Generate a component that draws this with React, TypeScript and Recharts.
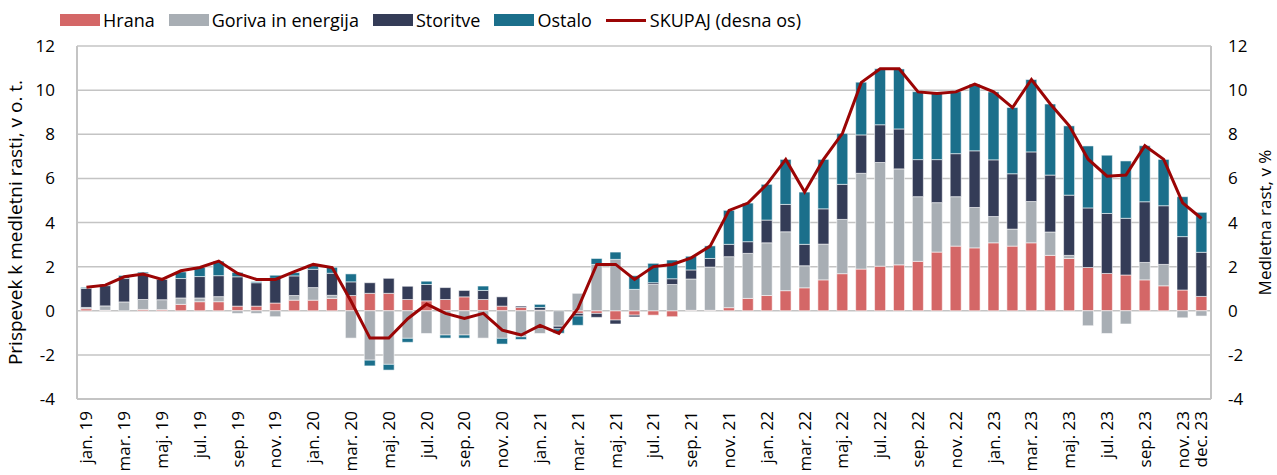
import { ComposedChart, Bar, Line, XAxis, YAxis, CartesianGrid } from 'recharts';

const MONTH_NAMES = ['jan', 'feb', 'mar', 'apr', 'maj', 'jun', 'jul', 'avg', 'sep', 'okt', 'nov', 'dec'];
const YEARS = ['19', '20', '21', '22', '23'];
const MONTHS = YEARS.flatMap((y) => MONTH_NAMES.map((m) => `${m}. ${y}`));

const HRANA = [
  0.09, 0.02, 0.0, 0.06, 0.05, 0.29, 0.41, 0.41, 0.21, 0.21, 0.35, 0.48,
  0.48, 0.56, 0.69, 0.79, 0.79, 0.51, 0.45, 0.51, 0.63, 0.51, 0.21, 0.15,
  0.03, 0.0, -0.12, -0.12, -0.42, -0.2, -0.2, -0.27, 0.02, 0.02, 0.14, 0.56,
  0.69, 0.91, 1.04, 1.4, 1.68, 1.89, 2.02, 2.08, 2.24, 2.66, 2.93, 2.85,
  3.08, 2.93, 3.08, 2.51, 2.37, 1.96, 1.69, 1.62, 1.4, 1.13, 0.94, 0.65,
];
const GORIVA = [
  0.06, 0.2, 0.4, 0.45, 0.45, 0.29, 0.17, 0.23, -0.12, -0.12, -0.27, 0.21,
  0.57, 0.14, -1.24, -2.24, -2.43, -1.25, -1.03, -1.1, -1.1, -1.24, -1.25, -1.18,
  -1.03, -0.7, 0.79, 2.1, 2.33, 0.97, 1.19, 1.19, 1.42, 1.96, 2.31, 2.04,
  2.39, 2.67, 1.0, 1.62, 2.46, 4.34, 4.7, 4.35, 2.93, 2.24, 2.24, 1.83,
  1.19, 0.77, 1.87, 1.06, 0.14, -0.68, -1.03, -0.6, 0.79, 0.97, -0.32, -0.24,
];
const STORITVE = [
  0.86, 0.92, 1.06, 1.18, 0.92, 0.88, 0.97, 0.95, 1.33, 1.06, 1.12, 0.89,
  0.83, 1.0, 0.62, 0.48, 0.68, 0.6, 0.74, 0.54, 0.29, 0.41, 0.42, 0.06,
  0.12, -0.12, -0.12, -0.18, -0.18, -0.08, 0.08, 0.26, 0.41, 0.39, 0.56, 0.53,
  1.03, 1.24, 0.97, 1.6, 1.59, 1.74, 1.71, 1.81, 1.68, 1.95, 1.95, 2.57,
  2.57, 2.51, 2.25, 2.58, 2.73, 2.7, 2.72, 2.57, 2.75, 2.66, 2.42, 2.0,
];
const OSTALO = [
  0.05, 0.06, 0.14, 0.06, 0.0, 0.3, 0.42, 0.66, 0.2, 0.05, 0.14, 0.15,
  0.21, 0.27, 0.36, -0.26, -0.26, -0.18, 0.15, -0.14, -0.14, 0.2, -0.26, -0.12,
  0.14, -0.2, -0.42, 0.27, 0.33, 0.62, 0.88, 0.85, 0.62, 0.57, 1.54, 1.75,
  1.62, 2.04, 2.37, 2.24, 2.31, 2.39, 2.54, 2.72, 3.08, 3.0, 2.81, 3.02,
  3.08, 3.0, 3.28, 3.22, 3.14, 2.81, 2.64, 2.6, 2.54, 2.1, 1.81, 1.81,
];
const SKUPAJ = [
  1.06, 1.16, 1.54, 1.66, 1.42, 1.81, 1.96, 2.25, 1.69, 1.42, 1.42, 1.77,
  2.1, 1.96, 0.43, -1.24, -1.24, -0.36, 0.3, -0.12, -0.35, -0.12, -0.88, -1.1,
  -0.66, -1.03, 0.1, 2.1, 2.1, 1.42, 2.0, 2.1, 2.4, 2.93, 4.55, 4.88,
  5.73, 6.86, 5.38, 6.86, 8.04, 10.35, 10.97, 10.97, 9.92, 9.85, 9.92, 10.27,
  9.92, 9.21, 10.48, 9.37, 8.38, 6.87, 6.1, 6.15, 7.48, 6.86, 4.89, 4.18,
];
const Y_TICKS = [-4, -2, 0, 2, 4, 6, 8, 10, 12];

const data = MONTHS.map((month, i) => ({
  month,
  hrana: HRANA[i],
  goriva: GORIVA[i],
  storitve: STORITVE[i],
  ostalo: OSTALO[i],
  skupaj: SKUPAJ[i],
}));

const COLORS = {
  hrana: '#d46767',
  goriva: '#a8aeb4',
  storitve: '#343c57',
  ostalo: '#1b6f8b',
  skupaj: '#9b0505',
};

const LEGEND = [
  { label: 'Hrana', color: COLORS.hrana, type: 'box' },
  { label: 'Goriva in energija', color: COLORS.goriva, type: 'box' },
  { label: 'Storitve', color: COLORS.storitve, type: 'box' },
  { label: 'Ostalo', color: COLORS.ostalo, type: 'box' },
  { label: 'SKUPAJ (desna os)', color: COLORS.skupaj, type: 'line' },
];

const FONT = '"Open Sans", "Noto Sans", sans-serif';
const GRID = '#c4c4c4';

function MonthTick({ x, y, payload, index }: any) {
  const last = index === MONTHS.length - 1;
  if (index % 2 !== 0 && !last) return null;
  return (
    <text
      x={x}
      y={y + 10}
      transform={`rotate(-90, ${x}, ${y + 10})`}
      textAnchor="end"
      dy="0.35em"
      fontSize={17}
      fill="#000"
    >
      {payload.value}
    </text>
  );
}

const barProps = {
  stackId: 'a',
  yAxisId: 'left',
  isAnimationActive: false,
  stroke: '#ffffff',
  strokeOpacity: 0.55,
  strokeWidth: 1,
};

export default function App() {
  return (
    <div style={{ position: 'absolute', left: 0, top: 0, width: 1277, height: 475, fontFamily: FONT, background: '#fff' }}>
      <div style={{ position: 'absolute', left: 60, top: 8, display: 'flex', alignItems: 'center', fontSize: 18, lineHeight: '24px', color: '#000' }}>
        {LEGEND.map((item) => (
          <div key={item.label} style={{ display: 'flex', alignItems: 'center', marginRight: item.type === 'box' ? 14 : 0 }}>
            {item.type === 'box' ? (
              <span style={{ display: 'inline-block', width: 40, height: 12, background: item.color, marginRight: 3 }} />
            ) : (
              <span style={{ display: 'inline-block', width: 40, height: 3, background: item.color, marginRight: 4 }} />
            )}
            <span>{item.label}</span>
          </div>
        ))}
      </div>
      <ComposedChart
        width={1277}
        height={475}
        data={data}
        stackOffset="sign"
        barCategoryGap="20%"
        margin={{ top: 46, right: 0, bottom: 0, left: 0 }}
      >
        <CartesianGrid yAxisId="left" vertical={false} stroke={GRID} strokeWidth={1.5} />
        <XAxis
          dataKey="month"
          interval={0}
          height={76}
          tick={<MonthTick />}
          tickLine={false}
          tickSize={0}
          axisLine={{ stroke: GRID, strokeWidth: 2 }}
        />
        <YAxis
          yAxisId="left"
          orientation="left"
          width={77}
          domain={[-4, 12]}
          ticks={Y_TICKS}
          interval={0}
          tickLine={false}
          tickSize={0}
          tickMargin={22}
          tick={{ fontSize: 17, fill: '#000' }}
          axisLine={{ stroke: GRID, strokeWidth: 2 }}
          label={{
            value: 'Prispevek k medletni rasti, v o. t.',
            angle: -90,
            position: 'insideLeft',
            offset: 15,
            style: { textAnchor: 'middle', fontSize: 19, fill: '#000' },
          }}
        />
        <YAxis
          yAxisId="right"
          orientation="right"
          width={66}
          domain={[-4, 12]}
          ticks={Y_TICKS}
          interval={0}
          tickLine={false}
          tickSize={0}
          tickMargin={17}
          tick={{ fontSize: 17, fill: '#000' }}
          axisLine={{ stroke: GRID, strokeWidth: 2 }}
          label={{
            value: 'Medletna rast, v %',
            angle: -90,
            position: 'insideRight',
            offset: 12,
            style: { textAnchor: 'middle', fontSize: 17, fill: '#000' },
          }}
        />
        <Bar dataKey="hrana" name="Hrana" fill={COLORS.hrana} {...barProps} />
        <Bar dataKey="goriva" name="Goriva in energija" fill={COLORS.goriva} {...barProps} />
        <Bar dataKey="storitve" name="Storitve" fill={COLORS.storitve} {...barProps} />
        <Bar dataKey="ostalo" name="Ostalo" fill={COLORS.ostalo} {...barProps} />
        <Line
          yAxisId="right"
          dataKey="skupaj"
          name="SKUPAJ (desna os)"
          type="linear"
          stroke={COLORS.skupaj}
          strokeWidth={3}
          dot={false}
          isAnimationActive={false}
        />
      </ComposedChart>
    </div>
  );
}
